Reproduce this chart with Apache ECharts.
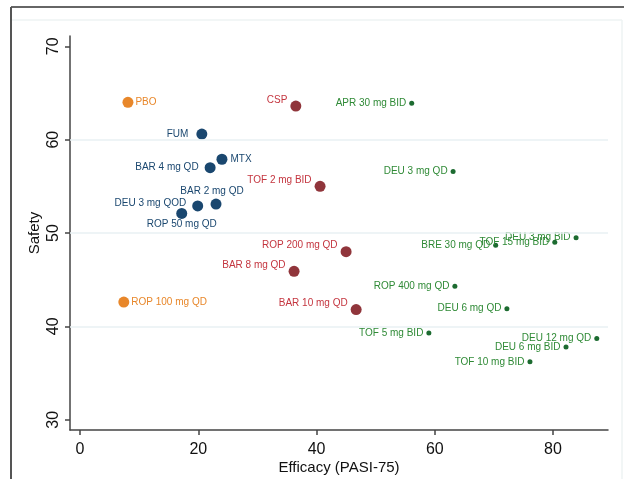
<!DOCTYPE html>
<html>
<head>
<meta charset="utf-8">
<script src="https://cdn.jsdelivr.net/npm/echarts@6/dist/echarts.min.js"></script>
<style>
  html, body { margin: 0; padding: 0; background: #fff; }
  #chart { width: 624px; height: 479px; }
</style>
</head>
<body>
<div id="chart"></div>
<script>
// reference group (orange)
const refNames = ['PBO', 'ROP 100 mg QD'];
const refX = [8.1, 7.4];
const refY = [64.0, 42.6];

// navy group
const navyNames = ['FUM', 'MTX', 'BAR 4 mg QD', 'BAR 2 mg QD', 'DEU 3 mg QOD', 'ROP 50 mg QD'];
const navyX = [20.6, 24.0, 22.0, 23.0, 19.9, 17.2];
const navyY = [60.6, 57.9, 57.0, 53.1, 52.9, 52.1];

// maroon group
const redNames = ['CSP', 'TOF 2 mg BID', 'ROP 200 mg QD', 'BAR 8 mg QD', 'BAR 10 mg QD'];
const redX = [36.5, 40.6, 45.0, 36.2, 46.7];
const redY = [63.6, 55.0, 48.0, 45.9, 41.8];

// green group
const greenNames = ['APR 30 mg BID', 'DEU 3 mg QD', 'BRE 30 mg QD', 'TOF 15 mg BID', 'DEU 3 mg BID',
  'ROP 400 mg QD', 'DEU 6 mg QD', 'TOF 5 mg BID', 'DEU 12 mg QD', 'DEU 6 mg BID', 'TOF 10 mg BID'];
const greenX = [56.1, 63.1, 70.3, 80.3, 83.9, 63.4, 72.2, 59.0, 87.4, 82.2, 76.1];
const greenY = [63.9, 56.6, 48.7, 49.0, 49.5, 44.3, 41.9, 39.3, 38.7, 37.8, 36.2];

const xTicks = [0, 20, 40, 60, 80];
const yTicks = [30, 40, 50, 60, 70];
const yGrid = [40, 50, 60];

// label placement for the navy points
const navyLabel = {
  'FUM': { position: 'left', distance: 8 },
  'MTX': { position: 'right', distance: 3 },
  'BAR 4 mg QD': { position: 'left', distance: 6 },
  'BAR 2 mg QD': { position: 'top', distance: 2, offset: [-4, 0] },
  'DEU 3 mg QOD': { position: 'left', distance: 6, offset: [0, -3] },
  'ROP 50 mg QD': { position: 'bottom', distance: 0 }
};

const font = 'Liberation Sans, Arial, sans-serif';

function points(names, xs, ys, extra) {
  return names.map((n, i) => {
    const d = { name: n, value: [xs[i], ys[i]] };
    if (extra && extra[n]) d.label = extra[n];
    return d;
  });
}

const chart = echarts.init(document.getElementById('chart'));

const option = {
  animation: false,
  backgroundColor: '#fff',
  graphic: [
    { type: 'line', shape: { x1: 11, y1: 7, x2: 624, y2: 7 }, style: { stroke: '#666', lineWidth: 2 } },
    { type: 'line', shape: { x1: 11, y1: 7, x2: 11, y2: 479 }, style: { stroke: '#555', lineWidth: 2 } },
    { type: 'line', shape: { x1: 12, y1: 20, x2: 622, y2: 20 }, style: { stroke: '#eef3f3', lineWidth: 1.5 } },
    { type: 'line', shape: { x1: 622, y1: 20, x2: 622, y2: 479 }, style: { stroke: '#eef3f3', lineWidth: 1.5 } }
  ],
  grid: { left: 70, right: 16, top: 36, bottom: 49, containLabel: false, outerBoundsMode: 'none' },
  xAxis: {
    type: 'value',
    min: -1.7,
    max: 89.3,
    name: 'Efficacy (PASI-75)',
    nameLocation: 'middle',
    nameGap: 30,
    nameMoveOverlap: false,
    nameTextStyle: { fontFamily: font, fontSize: 15, color: '#111' },
    axisLine: { onZero: false, lineStyle: { color: '#444', width: 1.5 } },
    axisTick: { show: true, length: 5, customValues: xTicks, lineStyle: { color: '#444', width: 1.5 } },
    axisLabel: { customValues: xTicks, margin: 12, fontFamily: font, fontSize: 16, color: '#111' },
    splitLine: { show: false }
  },
  yAxis: {
    type: 'value',
    min: 28.9,
    max: 71.1,
    name: 'Safety',
    nameLocation: 'middle',
    nameRotate: 90,
    nameGap: 28,
    nameMoveOverlap: false,
    nameTextStyle: { fontFamily: font, fontSize: 15, color: '#111' },
    axisLine: { show: true, onZero: false, lineStyle: { color: '#444', width: 1.5 } },
    axisTick: { show: true, length: 5, customValues: yTicks, lineStyle: { color: '#444', width: 1.5 } },
    axisLabel: { customValues: yTicks, rotate: 90, margin: 8, fontFamily: font, fontSize: 16, color: '#111' },
    splitLine: { show: false }
  },
  series: [
    {
      type: 'scatter',
      symbolSize: 11,
      itemStyle: { color: '#e8872a', opacity: 1 },
      label: { show: true, formatter: '{b}', position: 'right', distance: 2, color: '#e8872a', fontFamily: font, fontSize: 10 },
      data: points(refNames, refX, refY),
      markLine: {
        silent: true,
        symbol: 'none',
        label: { show: false },
        lineStyle: { color: '#e9f0f3', type: 'solid', width: 1.5 },
        data: yGrid.map(v => ({ yAxis: v }))
      },
      z: 3
    },
    {
      type: 'scatter',
      symbolSize: 11,
      itemStyle: { color: '#1a476f', opacity: 1 },
      label: { show: true, formatter: '{b}', position: 'left', distance: 6, color: '#1a476f', fontFamily: font, fontSize: 10 },
      data: points(navyNames, navyX, navyY, navyLabel),
      z: 3
    },
    {
      type: 'scatter',
      symbolSize: 11,
      itemStyle: { color: '#90353b', opacity: 1 },
      label: { show: true, formatter: '{b}', position: 'left', distance: 3, offset: [0, -6], color: '#c4353f', fontFamily: font, fontSize: 10 },
      data: points(redNames, redX, redY),
      z: 3
    },
    {
      type: 'scatter',
      symbolSize: 5,
      itemStyle: { color: '#1c6b30', opacity: 1 },
      label: { show: true, formatter: '{b}', position: 'left', distance: 3, offset: [0, -5], color: '#2f8a36', fontFamily: font, fontSize: 10 },
      labelLayout: { hideOverlap: false },
      data: points(greenNames, greenX, greenY),
      z: 3
    }
  ]
};

chart.setOption(option);
</script>
</body>
</html>
